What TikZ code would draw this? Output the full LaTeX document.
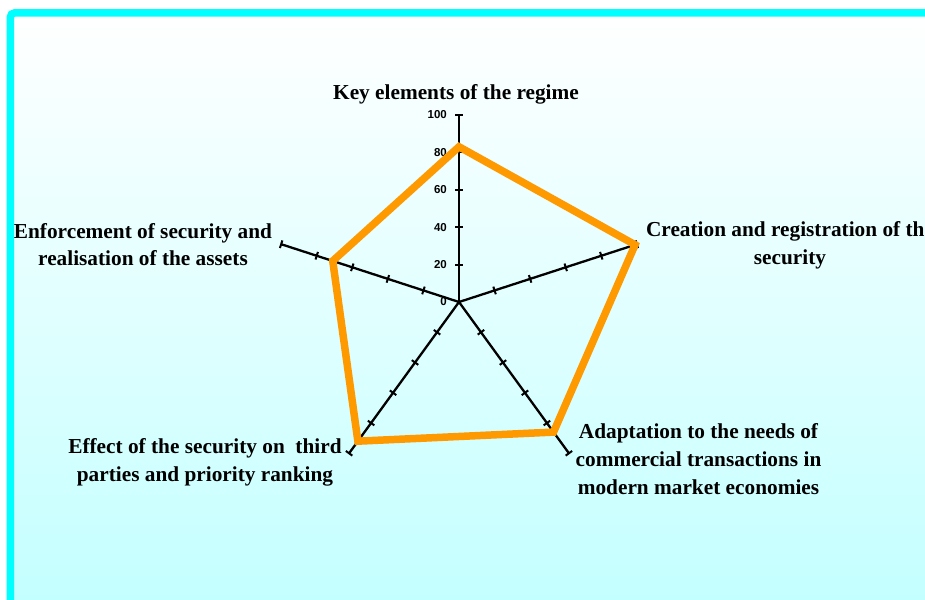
\documentclass[tikz,border=0pt]{standalone}
\usepackage{fontspec}
\setmainfont{Liberation Serif}
\newfontfamily\numfont{Liberation Sans}
\definecolor{framecyan}{RGB}{0,255,255}
\definecolor{washcyan}{RGB}{196,255,255}
\definecolor{seriesorange}{RGB}{255,153,0}
\newcommand{\catfont}{\fontsize{21.3}{27.8}\selectfont\bfseries}
\newcommand{\tickfont}{\numfont\fontsize{11.5}{13}\selectfont\bfseries}

\begin{document}
\begin{tikzpicture}[x=1pt,y=1pt,
  axisline/.style={line width=2.3pt, black},
  tickline/.style={line width=2pt, black},
  seriesline/.style={line width=7.5pt, seriesorange, line join=miter},
  catlabel/.style={font=\catfont, align=center, inner sep=0pt, text=black},
  scalelabel/.style={font=\tickfont, anchor=east, inner sep=0pt, text=black}]
\useasboundingbox (0,0) rectangle (925,599);
\clip (0,0) rectangle (925,599);

% background wash and frame
\fill[white] (0,0) rectangle (925,599);
\shade[top color=white, bottom color=washcyan] (10,0) rectangle (925,586);
\draw[framecyan, line width=7.5pt, rounded corners=4pt] (10.4,-10) -- (10.4,586) -- (940,586);

% radar axes with tick marks every 20 units (1 unit = 1.87pt)
\coordinate (O) at (459,297);
\foreach \ang/\n in {90/1,18/2,-54/3,-126/4,162/5}{
  \draw[axisline] (O) -- ++(\ang:187) coordinate (A\n);
  \foreach \k in {1,...,5}
    \draw[tickline] ([shift={(\ang:\k*37.4)}]O) ++(\ang+90:4) -- ++(\ang-90:8);
}

% scale on the vertical axis
\foreach \v in {0,20,40,60,80,100}
  \node[scalelabel] (s\v) at (447,297+\v*1.87) {\v};

% data series
\path (O) ++(90:83*1.87) coordinate (D1);
\path (O) ++(18:99*1.87) coordinate (D2);
\path (O) ++(-54:86*1.87) coordinate (D3);
\path (O) ++(-126:92*1.87) coordinate (D4);
\path (O) ++(162:71*1.87) coordinate (D5);
\draw[seriesline] (D1) -- (D2) -- (D3) -- (D4) -- (D5) -- cycle;

% category labels
\node[catlabel] (c1) at (456,505) {\strut Key elements of the regime};
\node[catlabel] (c2) at (790,354.2) {\strut Creation and registration of the\\\strut security};
\node[catlabel] (c3) at (698.5,138) {\strut Adaptation to the needs of\\\strut commercial transactions in\\\strut modern market economies};
\node[catlabel] (c4) at (205,137.2) {\strut Effect of the security on\ \ third\\\strut parties and priority ranking};
\node[catlabel] (c5) at (143,352.6) {\strut Enforcement of security and\\\strut realisation of the assets};
\end{tikzpicture}
\end{document}
